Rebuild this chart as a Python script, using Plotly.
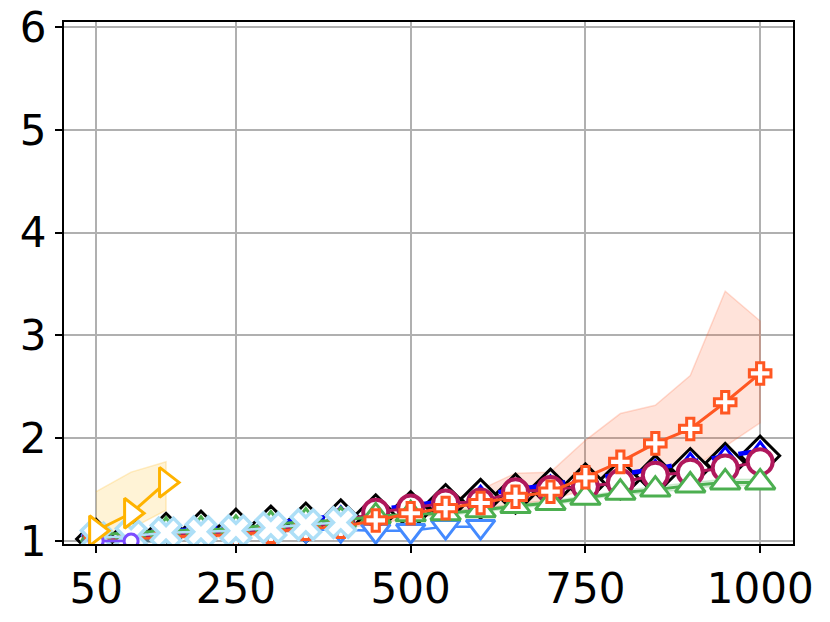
import plotly.graph_objects as go

x_all = [50, 100, 150, 200, 250, 300, 350, 400, 450, 500,
         550, 600, 650, 700, 750, 800, 850, 900, 950, 1000]

black_vals = [1.02, 1.05, 1.08, 1.10, 1.12, 1.15, 1.18, 1.21, 1.26, 1.29,
              1.36, 1.41, 1.46, 1.51, 1.56, 1.60, 1.64, 1.71, 1.76, 1.83]
blue_vals = [1.04, 1.07, 1.10, 1.12, 1.14, 1.17, 1.21, 1.25, 1.31, 1.34,
             1.40, 1.45, 1.50, 1.55, 1.60, 1.65, 1.70, 1.77, 1.83, 1.88]
crimson_vals = [1.02, 1.04, 1.06, 1.08, 1.09, 1.11, 1.14, 1.18, 1.28, 1.32,
                1.37, 1.38, 1.48, 1.50, 1.53, 1.57, 1.64, 1.67, 1.71, 1.77]
green_vals = [1.06, 1.08, 1.10, 1.11, 1.12, 1.16, 1.19, 1.20, 1.24, 1.26,
              1.27, 1.30, 1.34, 1.37, 1.42, 1.47, 1.50, 1.54, 1.57, 1.57]
green_upper = [1.08, 1.10, 1.12, 1.13, 1.14, 1.18, 1.21, 1.22, 1.26, 1.28,
               1.29, 1.32, 1.36, 1.39, 1.44, 1.49, 1.53, 1.57, 1.60, 1.60]
green_lower = [1.04, 1.06, 1.08, 1.09, 1.10, 1.14, 1.17, 1.18, 1.22, 1.24,
               1.25, 1.28, 1.32, 1.35, 1.40, 1.45, 1.47, 1.51, 1.54, 1.54]
orange_vals = [1.00, 1.01, 1.04, 1.05, 1.06, 1.09, 1.12, 1.14, 1.20, 1.27,
               1.32, 1.37, 1.43, 1.48, 1.62, 1.77, 1.95, 2.09, 2.35, 2.63]
orange_upper = [1.02, 1.03, 1.06, 1.07, 1.08, 1.11, 1.14, 1.17, 1.24, 1.30,
                1.38, 1.50, 1.66, 1.67, 1.98, 2.24, 2.32, 2.61, 3.43, 3.14]
orange_lower = [0.99, 1.00, 1.02, 1.03, 1.04, 1.07, 1.10, 1.12, 1.17, 1.22,
                1.27, 1.30, 1.36, 1.40, 1.50, 1.58, 1.63, 1.70, 1.92, 2.15]

x_v = [50, 100, 150, 200, 250, 300, 350, 400, 450, 500, 550, 600]
cornflower_vals = [1.00, 1.02, 1.04, 1.06, 1.08, 1.09, 1.11, 1.11, 1.10, 1.10, 1.14, 1.14]

x_gray = [50, 100, 150]
gray_vals = [1.00, 1.00, 1.00]

x_x = [50, 100, 150, 200, 250, 300, 350, 400]
lightblue_vals = [1.03, 1.05, 1.08, 1.09, 1.10, 1.13, 1.16, 1.18]

x_purple = [50, 100]
purple_vals = [1.00, 1.00]

x_gold = [50, 100, 150]
gold_vals = [1.10, 1.27, 1.57]
gold_upper = [1.48, 1.67, 1.77]
gold_lower = [1.00, 1.12, 1.30]

x_ticks = [50, 250, 500, 750, 1000]
y_ticks = [1, 2, 3, 4, 5, 6]

fig = go.Figure()


def band(xs, up, lo, fill, edge):
    fig.add_trace(go.Scatter(
        x=list(xs) + list(xs)[::-1], y=list(up) + list(lo)[::-1],
        mode="lines", fill="toself", fillcolor=fill,
        line=dict(color=edge, width=1.5), hoverinfo="skip", showlegend=False))


band(x_gold, gold_upper, gold_lower, "rgba(255,179,0,0.16)", "rgba(255,179,0,0.22)")
band(x_all, green_upper, green_lower, "rgba(76,175,80,0.18)", "rgba(76,175,80,0.2)")
band(x_all, orange_upper, orange_lower, "rgba(255,87,34,0.17)", "rgba(255,87,34,0.2)")


def series(xs, ys, color, symbol, size, lw=2.5, dash="solid", mlw=3, fill="white"):
    fig.add_trace(go.Scatter(
        x=xs, y=ys, mode="lines+markers",
        line=dict(color=color, width=lw, dash=dash),
        marker=dict(symbol=symbol, size=size, color=fill,
                    line=dict(color=color, width=mlw)),
        showlegend=False))


series(x_all, black_vals, "#000000", "diamond", 30, lw=2.5, mlw=3)
series(x_all, blue_vals, "#0000FF", "triangle-up", 17, lw=4.5, dash="dash", mlw=3)
series(x_v, cornflower_vals, "#448AFF", "triangle-down", 25, lw=2.5, mlw=3)
series(x_all, crimson_vals, "#B0185C", "circle", 25, lw=3, mlw=4)
series(x_all, green_vals, "#4CAF50", "triangle-up", 26, lw=3, mlw=3)
series(x_all, orange_vals, "#FF5722", "cross", 18, lw=3, mlw=3)
series(x_gray, gray_vals, "#607D8B", "y-left", 18, lw=3, mlw=3)
series(x_x, lightblue_vals, "#ADDFF7", "x", 26, lw=2.5, mlw=3.5)
series(x_purple, purple_vals, "#7C4DFF", "circle", 14, lw=2.5, mlw=3)
series(x_gold, gold_vals, "#FFB300", "triangle-right", 26, lw=3, mlw=3)

axis_common = dict(
    showline=True, linecolor="black", linewidth=2, mirror=True,
    ticks="outside", ticklen=7, tickwidth=2, tickcolor="black",
    showgrid=True, gridcolor="#b0b0b0", gridwidth=1.8,
    zeroline=False, automargin=False, ticklabeloverflow="allow",
    tickfont=dict(family="DejaVu Sans", size=42, color="black"),
)

fig.update_xaxes(range=[4, 1047], tickvals=x_ticks,
                 ticktext=[str(v) for v in x_ticks], **axis_common)
fig.update_yaxes(range=[0.971, 6.049], tickvals=y_ticks,
                 ticktext=[str(v) for v in y_ticks], **axis_common)

fig.update_layout(
    width=830, height=622,
    margin=dict(l=64, r=37, t=22, b=78),
    paper_bgcolor="white", plot_bgcolor="white",
    showlegend=False,
)

# remove the page's default 8px body margin so the figure fills the window exactly
fig.write_html("out.html",
               config={"displayModeBar": False},
               post_script="document.body.style.margin='0';"
                           "document.body.style.overflow='hidden';")
